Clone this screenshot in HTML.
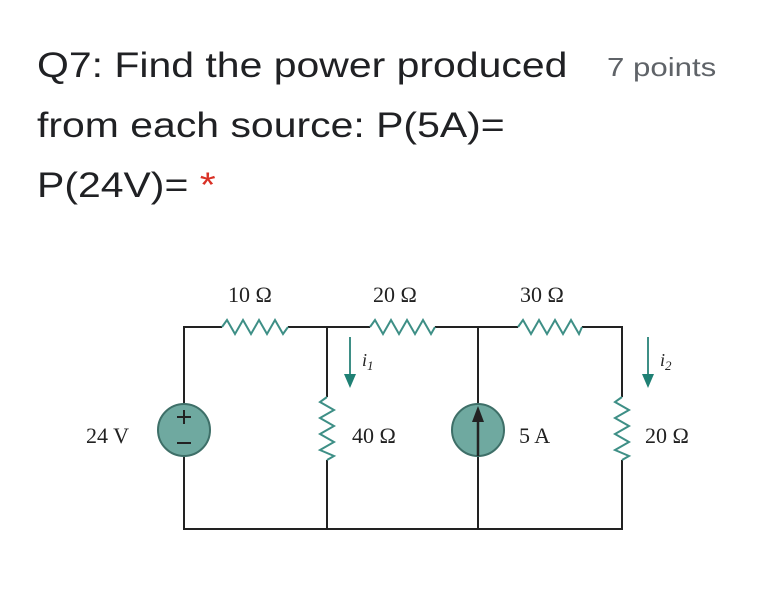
<!DOCTYPE html>
<html><head><style>
body{margin:0;width:784px;height:598px;background:#fff;overflow:hidden;position:relative;font-family:"Liberation Sans",sans-serif;color:#202124}
.t{position:absolute;font-size:35px;white-space:nowrap;transform-origin:0 0;transform:scaleX(1.17)}
</style></head><body>
<div class="t" style="left:37px;top:46px">Q7: Find the power produced</div>
<div class="t" style="left:607px;top:52px;font-size:26px;color:#5f6368;transform:scaleX(1.2)">7 points</div>
<div class="t" style="left:37px;top:106px">from each source: P(5A)=</div>
<div class="t" style="left:37px;top:166px">P(24V)= <span style="color:#d93025">*</span></div>
<svg width="784" height="598" style="position:absolute;left:0;top:0" font-family="Liberation Serif,serif" font-size="22" fill="#222">
<g stroke="#222" stroke-width="2" fill="none">
<path d="M184,403 V327 H222 M288,327 H370 M435,327 H518 M582,327 H622 V397 M622,460 V529 H184 V457"/>
<path d="M327,327 V397 M327,460 V529 M478,327 V529"/>
</g>
<g stroke="#3e8f86" stroke-width="2" fill="none">
<polyline points="222,327 227,320 235,334 243,320 251,334 259,320 267,334 275,320 283,334 288,327"/>
<polyline points="370,327 375,320 383,334 391,320 399,334 407,320 415,334 423,320 431,334 435,327"/>
<polyline points="518,327 523,320 531,334 539,320 547,334 555,320 563,334 571,320 579,334 582,327"/>
<polyline points="327,397 320,402 334,410 320,418 334,426 320,434 334,442 320,450 334,456 327,460"/>
<polyline points="622,397 615,402 629,410 615,418 629,426 615,434 629,442 615,450 629,456 622,460"/>
<path d="M350,337 V376 M648,337 V376"/>
</g>
<path d="M344,374 L356,374 L350,388 Z M642,374 L654,374 L648,388 Z" fill="#1f8074"/>
<circle cx="184" cy="430" r="26" fill="#6fa9a0" stroke="#3e6f68" stroke-width="2"/>
<path d="M177,417 H191 M184,410 V424 M177,443 H191" stroke="#222" stroke-width="2"/>
<circle cx="478" cy="430" r="26" fill="#6fa9a0" stroke="#3e6f68" stroke-width="2"/>
<path d="M478,456 V420" stroke="#222" stroke-width="2.5"/>
<path d="M472,422 L484,422 L478,406 Z" fill="#222"/>
<text x="228" y="302">10 Ω</text>
<text x="373" y="302">20 Ω</text>
<text x="520" y="302">30 Ω</text>
<text x="86" y="443">24 V</text>
<text x="352" y="443">40 Ω</text>
<text x="519" y="443">5 A</text>
<text x="645" y="443">20 Ω</text>
<text x="362" y="366" font-style="italic" font-size="18">i<tspan font-size="13" dy="4">1</tspan></text>
<text x="660" y="366" font-style="italic" font-size="18">i<tspan font-size="13" dy="4">2</tspan></text>
</svg>
</body></html>
